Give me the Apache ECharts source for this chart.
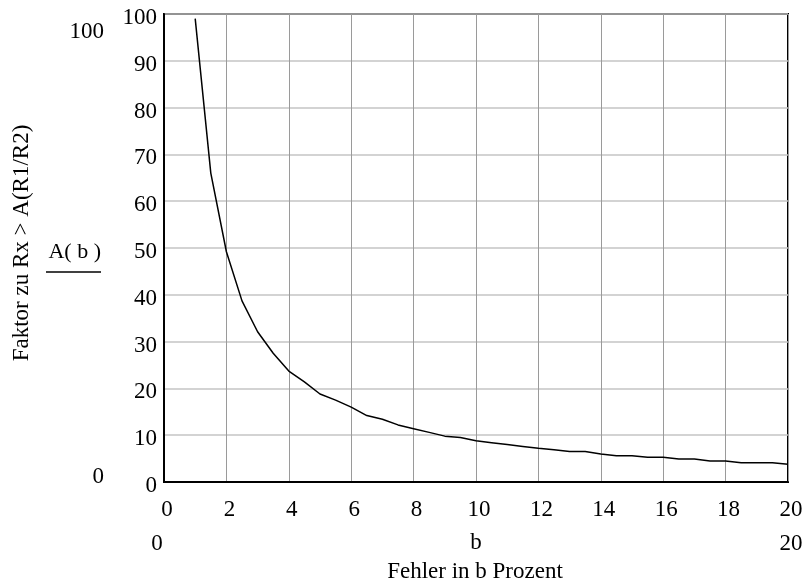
<!DOCTYPE html>
<html>
<head>
<meta charset="utf-8">
<script src="https://cdn.jsdelivr.net/npm/echarts@6/dist/echarts.min.js"></script>
<style>
html,body{margin:0;padding:0;background:#fff;}
#c{width:807px;height:585px;}
</style>
</head>
<body>
<div id="c"></div>
<script>
// Data: error b in percent vs factor A(b)
var bValues = [1, 1.5, 2, 2.5, 3, 3.5, 4, 4.5, 5, 5.5, 6, 6.5, 7, 7.5, 8, 8.5, 9, 9.5, 10,
  10.5, 11, 11.5, 12, 12.5, 13, 13.5, 14, 14.5, 15, 15.5, 16, 16.5, 17, 17.5, 18, 18.5, 19, 19.5, 20];
var aValues = [99, 66, 49.2, 38.7, 32.1, 27.5, 23.7, 21.4, 18.8, 17.5, 16.0, 14.2, 13.4, 12.2, 11.4, 10.6, 9.8, 9.5, 8.8,
  8.4, 8.0, 7.6, 7.2, 6.9, 6.5, 6.5, 6.0, 5.6, 5.6, 5.3, 5.3, 4.9, 4.9, 4.5, 4.5, 4.1, 4.1, 4.1, 3.8];
var xTicks = [0, 2, 4, 6, 8, 10, 12, 14, 16, 18, 20];
var yTicks = [0, 10, 20, 30, 40, 50, 60, 70, 80, 90, 100];

var FONT = '"Liberation Serif", "Times New Roman", serif';
var FS = 23;
var seriesData = bValues.map(function (b, i) { return [b, aValues[i]]; });

function label(text, x, y, align, vAlign, size, rot) {
  return {
    type: 'text', x: x, y: y, rotation: rot || 0,
    style: {text: text, fontFamily: FONT, fontSize: size || FS, fill: '#000',
      textAlign: align || 'center', textVerticalAlign: vAlign || 'middle'}
  };
}

var chart = echarts.init(document.getElementById('c'), null, {renderer: 'canvas'});
chart.setOption({
  animation: false,
  backgroundColor: '#fff',
  grid: {left: 164, top: 14, right: 19, bottom: 103, show: true, borderColor: '#000', borderWidth: 2, backgroundColor: 'transparent'},
  xAxis: {
    type: 'value', min: xTicks[0], max: xTicks[xTicks.length - 1], interval: 2,
    axisLine: {show: true, onZero: false, lineStyle: {color: '#000', width: 2}},
    axisTick: {show: false},
    axisLabel: {margin: 16, fontFamily: FONT, fontSize: FS, color: '#000', padding: [0, 0, 0, 6]},
    splitLine: {show: true, lineStyle: {color: '#9a9a9a', width: 1}}
  },
  yAxis: {
    type: 'value', min: yTicks[0], max: yTicks[yTicks.length - 1], interval: 10,
    axisLine: {show: true, onZero: false, lineStyle: {color: '#000', width: 2}},
    axisTick: {show: false},
    axisLabel: {
      margin: 7, color: '#000',
      formatter: '{v|{value}}',
      rich: {v: {fontFamily: FONT, fontSize: FS, color: '#000', padding: [8, 0, 0, 0]}}
    },
    splitLine: {show: true, lineStyle: {color: '#c4c4c4', width: 1.5}}
  },
  series: [{
    type: 'line', data: seriesData, showSymbol: false, symbol: 'none',
    lineStyle: {color: '#000', width: 1.5}, z: 5
  }],
  graphic: [
    label('100', 104, 32, 'right'),
    label('0', 104, 477, 'right'),
    label('A( b )', 101, 252, 'right', 'middle', 22),
    {type: 'line', shape: {x1: 46, y1: 272, x2: 101, y2: 272}, style: {stroke: '#000', lineWidth: 1.5}},
    label('0', 157, 544),
    label('b', 476, 543),
    label('20', 791, 544),
    label('Fehler in b Prozent', 475, 572),
    label('Faktor zu Rx > A(R1/R2)', 22, 243, 'center', 'middle', FS, Math.PI / 2)
  ]
});
</script>
</body>
</html>
